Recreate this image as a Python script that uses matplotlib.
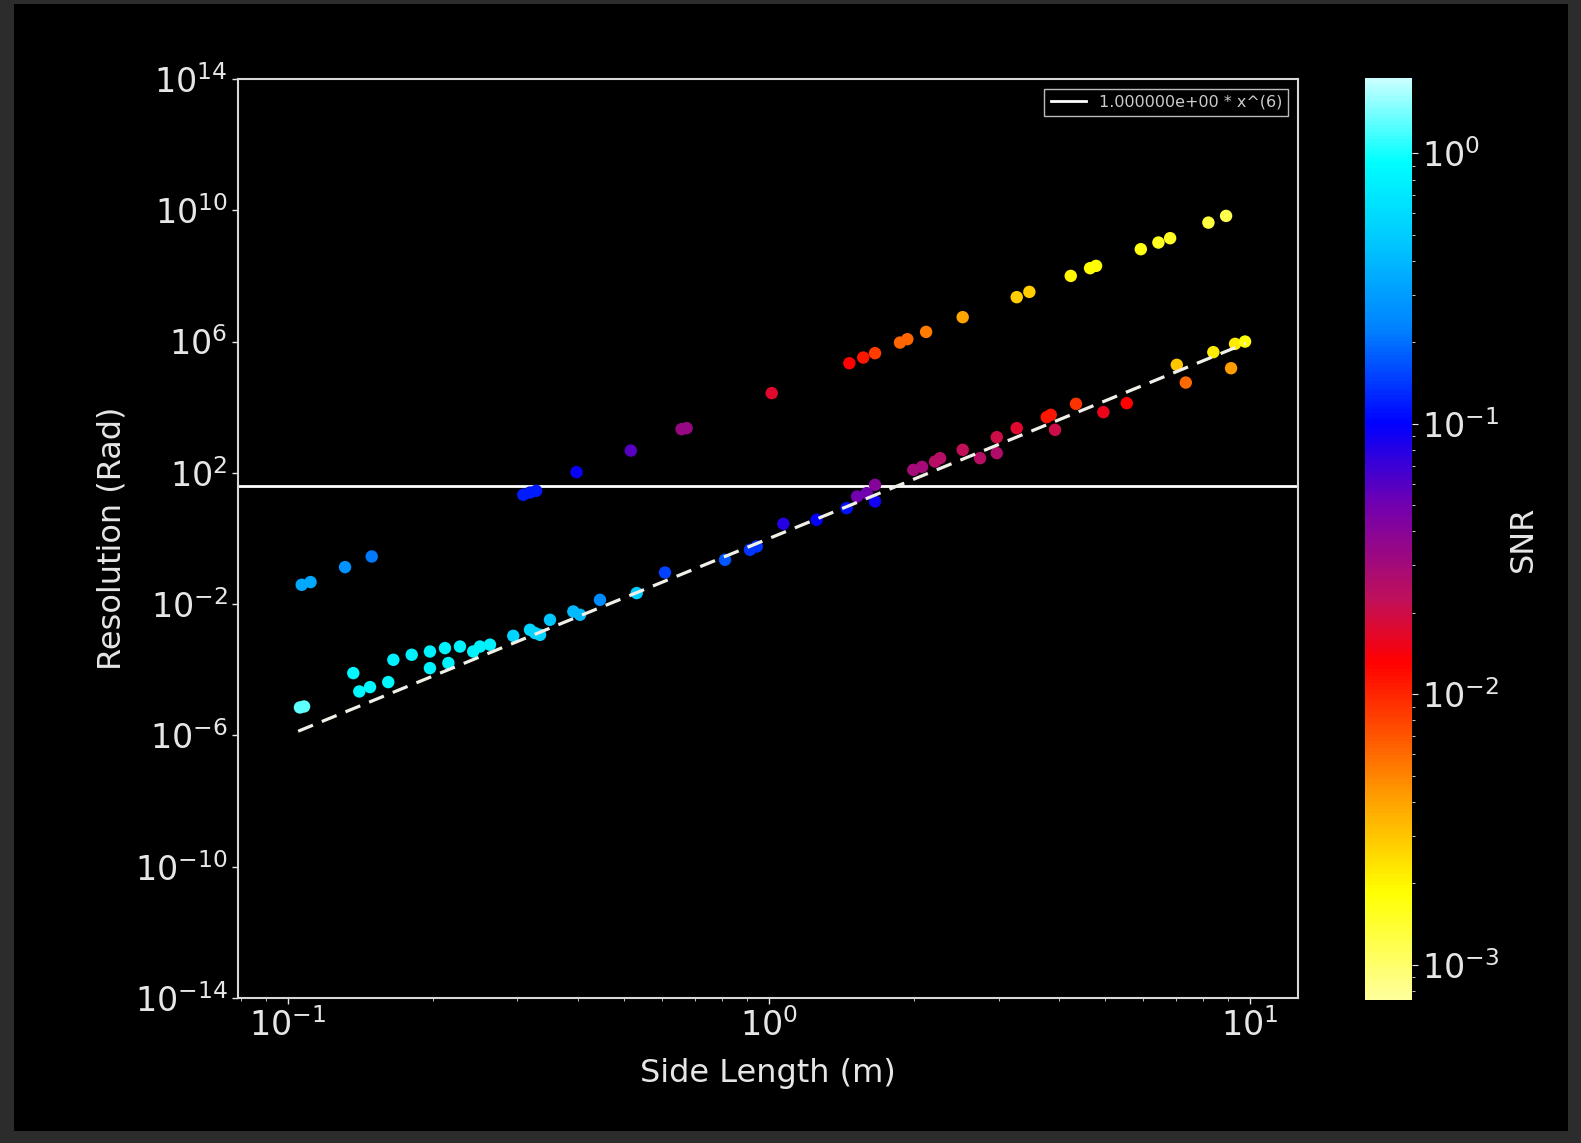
import numpy as np
import matplotlib
matplotlib.use("Agg")
import matplotlib.pyplot as plt
from matplotlib.colors import LinearSegmentedColormap, LogNorm
from matplotlib.patches import Rectangle
from matplotlib.ticker import NullLocator

# --- DATA ---
# upper branch: side length (m), resolution (rad), SNR
upper_side = [0.1068, 0.1114, 0.1314, 0.1493, 0.3084, 0.3185, 0.328, 0.398,
              0.516, 0.658, 0.674, 1.013, 1.469, 1.570, 1.661, 1.872, 1.939,
              2.121, 2.527, 3.273, 3.477, 4.239, 4.650, 4.785, 5.928, 6.449,
              6.821, 8.193, 8.916]
upper_res = [0.0388, 0.0469, 0.134, 0.282, 21.4, 25.1, 28.3, 105,
             477, 2140, 2300, 2.68e4, 2.19e5, 3.25e5, 4.43e5, 9.31e5, 1.18e6,
             1.97e6, 5.53e6, 2.25e7, 3.26e7, 1.0e8, 1.72e8, 2.02e8, 6.52e8, 1.04e9,
             1.41e9, 4.21e9, 6.73e9]
upper_snr = [0.34, 0.34, 0.27, 0.21, 0.12, 0.12, 0.12, 0.096,
             0.058, 0.034, 0.034, 0.017, 0.0135, 0.011, 0.0085, 0.0062, 0.0062,
             0.0053, 0.0039, 0.0028, 0.0028, 0.0020, 0.0019, 0.0019, 0.0017, 0.0015,
             0.0015, 0.0013, 0.0012]

# lower branch
lower_side = [0.1059, 0.108, 0.1367, 0.1407, 0.1481, 0.1616, 0.1656, 0.1808,
              0.1973, 0.2120, 0.2278, 0.1973, 0.2155, 0.2427, 0.2507, 0.263,
              0.294, 0.3185, 0.3263, 0.3342, 0.3505, 0.3919, 0.4046, 0.4452,
              0.5308, 0.6078, 0.810, 0.913, 0.943, 1.071, 1.256, 1.450,
              1.524, 1.596, 1.661, 1.661, 1.995, 2.08, 2.268, 2.214, 2.527,
              2.746, 2.975, 2.975, 3.273, 3.779, 3.852, 3.932, 4.347, 4.955,
              5.542, 7.042, 7.352, 8.388, 9.131, 9.307, 9.763]
lower_res = [7.1e-6, 7.6e-6, 7.9e-5, 2.18e-5, 2.96e-5, 4.2e-5, 2.01e-4, 2.86e-4,
             3.6e-4, 4.57e-4, 5.1e-4, 1.12e-4, 1.6e-4, 3.6e-4, 5.1e-4, 5.8e-4,
             1.08e-3, 1.65e-3, 1.31e-3, 1.16e-3, 3.33e-3, 5.96e-3, 4.73e-3, 0.0135,
             0.0217, 0.0918, 0.224, 0.452, 0.569, 2.8, 3.7, 8.4,
             19, 24, 13.4, 43, 123, 152, 280, 221, 502,
             280, 1220, 398, 2300, 4980, 5850, 2040, 1.264e4, 7060,
             1.327e4, 1.95e5, 5.63e4, 4.75e5, 1.54e5, 8.5e5, 1.0e6]
lower_snr = [1.28, 1.28, 0.86, 0.86, 0.86, 0.86, 0.8, 0.8,
             0.8, 0.8, 0.8, 0.8, 0.8, 0.8, 0.8, 0.8,
             0.55, 0.55, 0.55, 0.55, 0.45, 0.4, 0.4, 0.25,
             0.5, 0.15, 0.17, 0.14, 0.14, 0.08, 0.1, 0.11,
             0.05, 0.05, 0.09, 0.04, 0.03, 0.03, 0.025, 0.025, 0.022,
             0.025, 0.02, 0.026, 0.017, 0.011, 0.011, 0.02, 0.009, 0.015,
             0.013, 0.003, 0.006, 0.0022, 0.0042, 0.0022, 0.0018]

# power-law fit and threshold
fit_coef = 1.0
fit_exp = 6
fit_range = [0.105, 9.8]
threshold = 41
fit_label = f"{fit_coef:e} * x^({fit_exp})"

snr_min, snr_max = 7.4e-4, 1.9

# colormap: pale yellow (low SNR) -> red -> purple -> blue -> pale cyan (high SNR)
cmap = LinearSegmentedColormap.from_list("snr", [
    (0.0, "#ffff9c"), (0.116, "#ffff00"), (0.217, "#ffa000"), (0.29, "#ff5000"),
    (0.366, "#ff0000"), (0.434, "#c0105a"), (0.538, "#7000b0"), (0.626, "#0000ff"),
    (0.727, "#0080ff"), (0.824, "#00c8ff"), (0.911, "#00ffff"), (1.0, "#c8ffff")])
norm = LogNorm(vmin=snr_min, vmax=snr_max)

fg = "#e6e6e6"
plt.rcParams.update({"text.color": fg, "axes.labelcolor": fg,
                     "xtick.color": fg, "ytick.color": fg})

fig = plt.figure(figsize=(15.81, 11.43), dpi=100, facecolor="black")
# dark frame around the figure
for rect in [(0, 0, 14 / 1581, 1), (1 - 13 / 1581, 0, 13 / 1581, 1),
             (0, 1 - 4 / 1143, 1, 4 / 1143), (0, 0, 1, 12 / 1143)]:
    fig.add_artist(Rectangle(rect[:2], rect[2], rect[3], transform=fig.transFigure,
                             facecolor="#2c2c2c", edgecolor="none", zorder=0))

ax = fig.add_axes([0.1505, 0.1269, 0.6705, 0.804])
ax.set_facecolor("black")
cax = fig.add_axes([0.8634, 0.125, 0.0297, 0.8068])

ax.axhline(threshold, color="white", lw=2, label=fit_label)
sc = ax.scatter(upper_side, upper_res, c=upper_snr, cmap=cmap, norm=norm, s=80,
                edgecolors="none", zorder=3)
ax.scatter(lower_side, lower_res, c=lower_snr, cmap=cmap, norm=norm, s=80,
           edgecolors="none", zorder=3)
xf = np.geomspace(fit_range[0], fit_range[1], 100)
ax.plot(xf, fit_coef * xf ** fit_exp, color="#f0f0e8", lw=2.3, ls=(0, (5, 3)), zorder=4)

ax.set_xscale("log")
ax.set_yscale("log")
ax.set_xlim(0.0787, 12.58)
ax.set_ylim(1e-14, 1e14)
ax.set_yticks(10.0 ** np.arange(-14, 15, 4))
ax.yaxis.set_minor_locator(NullLocator())
ax.tick_params(labelsize=24, length=4, width=1)
ax.tick_params(which="minor", length=2.5)
for sp in ax.spines.values():
    sp.set_color("#d8d8d8")
    sp.set_linewidth(1.5)

ax.set_xlabel("Side Length (m)", fontsize=23, labelpad=11)
ax.set_ylabel("Resolution (Rad)", fontsize=23, labelpad=5)

leg = ax.legend(loc="upper right", fontsize=11.5, facecolor="black", edgecolor="#bbbbbb",
                framealpha=1, fancybox=False, handlelength=2.2, borderaxespad=0.6)
for t in leg.get_texts():
    t.set_color("#cccccc")

cb = fig.colorbar(sc, cax=cax)
cb.outline.set_visible(False)
cb.ax.tick_params(labelsize=24, length=4)
cb.ax.tick_params(which="minor", length=2.5)
cb.set_label("SNR", fontsize=23, labelpad=6)

fig.savefig("out.png", dpi=100, facecolor="black")
